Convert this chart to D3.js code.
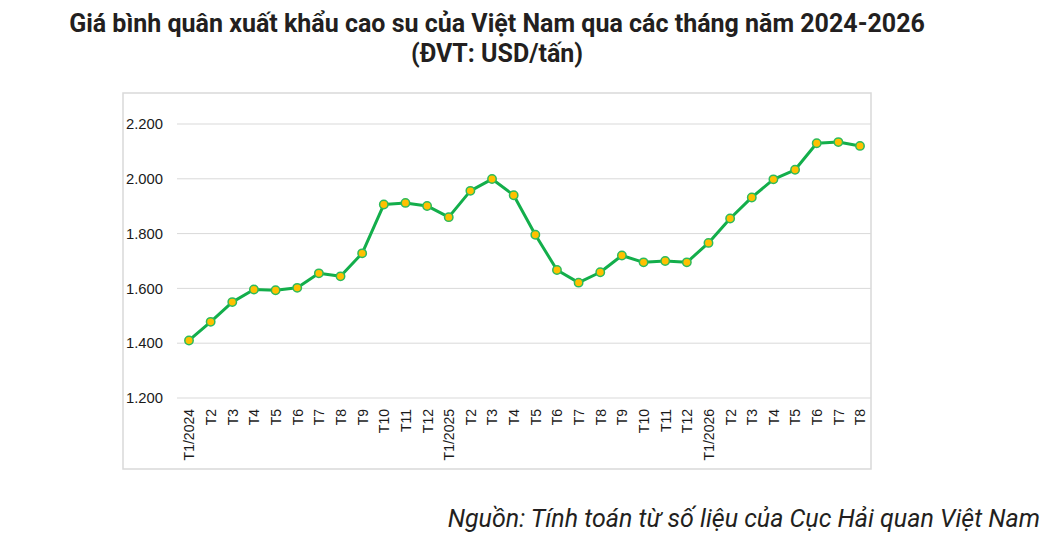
<!DOCTYPE html>
<html>
<head>
<meta charset="utf-8">
<script src="https://cdn.jsdelivr.net/npm/d3@7"></script>
<style>
  body { margin: 0; background: #fff; }
  svg { display: block; }
</style>
</head>
<body>
<div id="chart"></div>
<script>
const months = [
  "T1/2024", "T2", "T3", "T4", "T5", "T6", "T7", "T8", "T9", "T10", "T11", "T12",
  "T1/2025", "T2", "T3", "T4", "T5", "T6", "T7", "T8", "T9", "T10", "T11", "T12",
  "T1/2026", "T2", "T3", "T4", "T5", "T6", "T7", "T8"
];
const prices = [
  1410, 1478, 1550, 1596, 1593, 1602, 1655, 1644, 1728, 1906, 1912, 1901,
  1860, 1956, 1999, 1940, 1796, 1667, 1621, 1659, 1720, 1695, 1700, 1695,
  1766, 1855, 1932, 1998, 2033, 2130, 2134, 2120
];
const yTicks = [1200, 1400, 1600, 1800, 2000, 2200];

const titleLines = [
  "Giá bình quân xuất khẩu cao su của Việt Nam qua các tháng năm 2024-2026",
  "(ĐVT: USD/tấn)"
];
const sourceText = "Nguồn: Tính toán từ số liệu của Cục Hải quan Việt Nam";

function draw() {
  const width = 1050;
  const height = 547;
  const frame = { left: 123, top: 93, right: 871, bottom: 469 };
  const plot = { left: 177, right: 871 };

  const data = months.map((m, i) => ({ key: i, label: m, value: prices[i] }));

  const svg = d3.select("#chart")
    .append("svg")
    .attr("width", width)
    .attr("height", height);

  // title
  svg.append("g")
    .selectAll("text")
    .data(titleLines)
    .join("text")
    .attr("x", 497)
    .attr("y", (d, i) => 32 + i * 30)
    .attr("text-anchor", "middle")
    .style("font-family", "Roboto, sans-serif")
    .style("font-weight", 700)
    .style("font-size", "25px")
    .style("fill", "#231f20")
    .text(d => d);

  // chart frame
  svg.append("rect")
    .attr("x", frame.left)
    .attr("y", frame.top)
    .attr("width", frame.right - frame.left)
    .attr("height", frame.bottom - frame.top)
    .attr("fill", "#fff")
    .attr("stroke", "#d9d9d9")
    .attr("stroke-width", 1.5);

  const x = d3.scalePoint()
    .domain(data.map(d => d.key))
    .range([189, 860]);

  const y = d3.scaleLinear()
    .domain([1200, 2200])
    .range([398, 124]);

  // gridlines
  svg.append("g")
    .selectAll("line")
    .data(yTicks)
    .join("line")
    .attr("x1", plot.left)
    .attr("x2", plot.right)
    .attr("y1", d => y(d))
    .attr("y2", d => y(d))
    .attr("stroke", "#d9d9d9")
    .attr("stroke-width", 1);

  // y axis labels
  const yAxis = d3.axisLeft(y)
    .tickValues(yTicks)
    .tickSize(0)
    .tickPadding(14)
    .tickFormat(d => d3.format(",")(d).replace(",", "."));

  svg.append("g")
    .attr("transform", `translate(${plot.left}, 0)`)
    .call(yAxis)
    .call(g => g.select(".domain").remove())
    .selectAll("text")
    .style("font-family", "'Liberation Sans', Arial, sans-serif")
    .style("font-size", "14.8px")
    .style("fill", "#1a1a1a");

  // x axis labels, rotated
  const xAxis = d3.axisBottom(x)
    .tickSize(0)
    .tickFormat(i => months[i]);

  svg.append("g")
    .attr("transform", `translate(0, ${y(1200)})`)
    .call(xAxis)
    .call(g => g.select(".domain").remove())
    .selectAll("text")
    .attr("transform", "rotate(-90)")
    .attr("text-anchor", "end")
    .attr("x", -11)
    .attr("y", 0)
    .attr("dy", "0.35em")
    .style("font-family", "'Liberation Sans', Arial, sans-serif")
    .style("font-size", "14px")
    .style("fill", "#1a1a1a");

  // line
  const line = d3.line()
    .x(d => x(d.key))
    .y(d => y(d.value));

  svg.append("path")
    .datum(data)
    .attr("d", line)
    .attr("fill", "none")
    .attr("stroke", "#13ae4b")
    .attr("stroke-width", 3)
    .attr("stroke-linejoin", "round");

  // markers
  svg.append("g")
    .selectAll("circle")
    .data(data)
    .join("circle")
    .attr("cx", d => x(d.key))
    .attr("cy", d => y(d.value))
    .attr("r", 4.2)
    .attr("fill", "#ffc000")
    .attr("stroke", "#2dbb5a")
    .attr("stroke-width", 1.5);

  // source
  svg.append("text")
    .attr("x", 1040)
    .attr("y", 527)
    .attr("text-anchor", "end")
    .style("font-family", "Roboto, sans-serif")
    .style("font-style", "italic")
    .style("font-size", "25px")
    .style("fill", "#231f20")
    .text(sourceText);
}

draw();
</script>
</body>
</html>
